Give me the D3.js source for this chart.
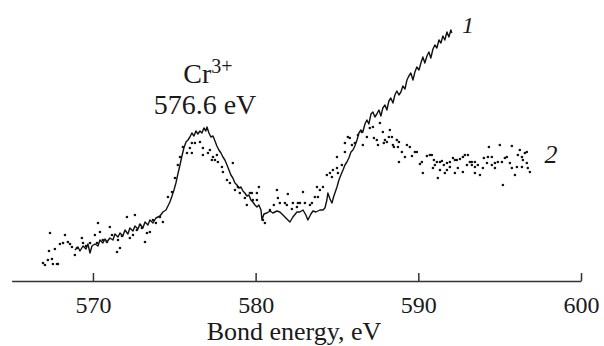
<!DOCTYPE html>
<html><head><meta charset="utf-8">
<script src="https://cdn.jsdelivr.net/npm/d3@7"></script>
<style>body{margin:0;background:#fff}svg{display:block}svg text{font-family:"Liberation Serif","Times New Roman",Times,"DejaVu Serif",serif !important;fill:#1a1a1a}</style>
</head><body><svg id="c" width="604" height="346"></svg>
<script>
// X-axis ticks (bond energy, eV)
const xTicks = [570, 580, 590, 600];
const xDomain = [565, 600];
// Curve 1 (solid line): [energy eV, intensity a.u.]
const curve1 = [[568.89,31],[569.08,34],[569.20,30],[569.39,35],[569.57,32],[569.69,37],[569.82,28],[569.94,35],[570.12,37],[570.31,35],[570.43,41],[570.61,38],[570.74,42],[570.86,39],[571.04,43],[571.23,41],[571.35,47],[571.54,44],[571.66,48],[571.84,45],[571.97,51],[572.15,47],[572.27,53],[572.46,50],[572.58,55],[572.77,52],[572.89,57],[573.07,53],[573.20,59],[573.38,56],[573.50,61],[573.69,58],[573.87,63],[574.12,65],[574.30,69],[574.49,71],[574.61,75],[574.73,79],[574.86,85],[574.98,91],[575.10,98],[575.22,107],[575.35,116],[575.47,125],[575.59,133],[575.72,139],[575.84,141],[575.96,144],[576.08,148],[576.21,145],[576.33,150],[576.45,147],[576.58,150],[576.70,148],[576.82,153],[576.94,150],[577.01,154],[577.13,148],[577.25,144],[577.38,145],[577.50,140],[577.62,135],[577.74,131],[577.87,128],[577.99,124],[578.11,121],[578.24,116],[578.36,111],[578.48,106],[578.60,103],[578.73,98],[578.85,96],[578.97,93],[579.10,94],[579.22,90],[579.34,88],[579.46,85],[579.59,86],[579.71,81],[579.83,79],[579.96,76],[580.08,74],[580.20,76],[580.33,71],[580.39,61],[580.51,67],[580.69,68],[580.88,70],[581.06,68],[581.31,70],[581.49,69],[581.68,66],[581.86,63],[582.11,59],[582.29,64],[582.54,69],[582.72,69],[582.91,71],[583.09,66],[583.21,61],[583.40,67],[583.52,70],[583.71,69],[583.95,71],[584.14,71],[584.26,73],[584.38,81],[584.44,88],[584.57,82],[584.69,78],[584.81,85],[585.00,94],[585.12,101],[585.24,106],[585.37,111],[585.49,116],[585.61,119],[585.73,123],[585.86,129],[585.98,131],[586.10,135],[586.23,141],[586.35,148],[586.47,151],[586.59,149],[586.72,157],[586.84,161],[586.96,157],[587.09,167],[587.21,169],[587.33,164],[587.45,167],[587.58,171],[587.70,165],[587.82,173],[587.95,176],[588.07,171],[588.19,180],[588.31,183],[588.44,178],[588.56,186],[588.68,190],[588.81,186],[588.93,189],[589.05,195],[589.18,192],[589.30,201],[589.42,205],[589.54,208],[589.67,201],[589.79,209],[589.91,214],[590.04,211],[590.16,218],[590.28,224],[590.40,218],[590.53,225],[590.65,229],[590.77,223],[590.90,232],[591.02,236],[591.14,233],[591.27,241],[591.39,238],[591.51,245],[591.63,241],[591.76,249],[591.88,244],[592.00,251],[592.06,248]];
// Curve 2 (dots): [energy eV, intensity a.u.]
const curve2 = [[566.93,18],[567.05,16],[567.23,21],[567.30,30],[567.36,48],[567.48,22],[567.54,17],[567.66,32],[567.79,17],[567.85,17],[567.97,37],[568.16,38],[568.28,46],[568.46,39],[568.59,37],[568.71,34],[568.89,26],[569.02,33],[569.32,43],[569.39,38],[569.57,35],[569.82,38],[570.12,46],[570.25,38],[570.31,58],[570.43,49],[570.61,41],[570.86,39],[571.04,54],[571.17,46],[571.48,29],[571.54,41],[571.66,33],[571.78,45],[572.09,64],[572.27,43],[572.46,46],[572.58,66],[572.70,51],[572.89,56],[573.01,53],[573.20,39],[573.32,48],[573.50,49],[573.69,61],[573.87,58],[574.12,64],[574.30,59],[574.61,84],[574.86,89],[575.04,103],[575.22,116],[575.35,124],[575.53,134],[575.78,128],[575.96,133],[576.08,138],[576.08,128],[576.27,138],[576.58,139],[576.76,133],[576.76,126],[577.07,128],[577.19,131],[577.31,121],[577.38,124],[577.50,121],[577.62,126],[577.68,119],[577.93,114],[577.99,109],[578.24,101],[578.42,98],[578.60,118],[578.73,91],[578.91,94],[579.03,88],[579.34,83],[579.46,76],[579.65,88],[579.77,88],[579.83,81],[580.08,88],[580.08,81],[580.20,94],[580.45,61],[580.57,58],[580.88,71],[581.12,76],[581.31,91],[581.37,83],[581.49,78],[581.80,78],[581.92,76],[581.98,87],[582.23,72],[582.29,78],[582.54,74],[582.60,78],[582.72,78],[582.91,89],[583.03,78],[583.34,76],[583.46,78],[583.64,84],[583.77,94],[583.83,84],[583.95,91],[584.14,94],[584.38,106],[584.57,108],[584.69,104],[584.75,111],[585.00,113],[585.06,108],[585.00,124],[585.30,116],[585.49,129],[585.49,138],[585.67,144],[585.79,143],[585.92,136],[586.10,138],[586.29,146],[586.53,149],[586.59,136],[586.84,144],[587.02,153],[587.21,154],[587.27,143],[587.45,141],[587.52,136],[587.64,158],[587.82,149],[587.88,138],[587.95,141],[588.07,139],[588.19,144],[588.25,151],[588.38,144],[588.44,136],[588.50,134],[588.68,141],[588.75,134],[588.81,139],[588.81,119],[588.99,129],[589.18,124],[589.30,136],[589.48,134],[589.61,125],[589.79,129],[589.91,129],[590.10,117],[590.22,119],[590.28,108],[590.53,125],[590.71,126],[590.83,126],[590.90,113],[590.96,121],[591.02,116],[591.14,119],[591.20,103],[591.33,119],[591.33,111],[591.45,120],[591.57,116],[591.63,108],[591.76,118],[591.76,111],[591.94,119],[591.94,114],[592.13,123],[592.25,121],[592.25,108],[592.37,121],[592.43,113],[592.56,122],[592.74,124],[592.74,109],[592.86,126],[592.99,116],[593.05,126],[593.17,119],[593.29,119],[593.29,116],[593.48,119],[593.48,114],[593.48,108],[593.66,116],[593.79,106],[593.97,113],[594.03,123],[594.22,118],[594.28,124],[594.34,134],[594.52,124],[594.52,116],[594.71,118],[594.71,113],[594.89,119],[595.01,136],[595.14,119],[595.20,96],[595.32,123],[595.44,124],[595.63,118],[595.75,135],[595.75,113],[595.94,106],[596.06,114],[596.12,126],[596.24,131],[596.37,124],[596.37,114],[596.43,121],[596.55,128],[596.67,129],[596.67,118],[596.73,113],[596.86,109]];

const svg = d3.select("#c");
const x = d3.scaleLinear().domain(xDomain).range([11.6, 581]);
const y = d3.scaleLinear().domain([0, 260]).range([281, 21]);

// axis
const ax = svg.append("g").attr("transform", "translate(0,281)")
  .call(d3.axisBottom(x).tickValues(xTicks).tickSize(-8).tickSizeOuter(0).tickPadding(0).tickFormat(d3.format("d")));
ax.attr("font-family", null);
ax.select(".domain").attr("stroke", "#333").attr("stroke-width", 1.5);
ax.selectAll(".tick line").attr("stroke", "#333").attr("stroke-width", 1.5);
ax.selectAll(".tick text").attr("font-size", 24).attr("fill", "#1a1a1a").attr("y", 32).attr("dy", 0);

// curve 1
svg.append("path").datum(curve1)
  .attr("fill", "none").attr("stroke", "#111").attr("stroke-width", 1.4).attr("stroke-linejoin", "round")
  .attr("d", d3.line().x(d => x(d[0])).y(d => y(d[1])));

// curve 2
svg.append("g").selectAll("circle").data(curve2).join("circle")
  .attr("cx", d => x(d[0])).attr("cy", d => y(d[1])).attr("r", 1.3).attr("fill", "#111");

// labels
svg.append("text").attr("x", 294).attr("y", 340).attr("text-anchor", "middle").attr("font-size", 26).text("Bond energy, eV");
const cr = svg.append("text").attr("x", 208).attr("y", 83).attr("text-anchor", "middle").attr("font-size", 28);
cr.append("tspan").text("Cr");
cr.append("tspan").attr("font-size", 20).attr("dy", -10).text("3+");
svg.append("text").attr("x", 205).attr("y", 114).attr("text-anchor", "middle").attr("font-size", 28).text("576.6 eV");
svg.append("text").attr("x", 468).attr("y", 33).attr("text-anchor", "middle").attr("font-size", 24).attr("font-style", "italic").text("1");
svg.append("text").attr("x", 551).attr("y", 163).attr("text-anchor", "middle").attr("font-size", 26).attr("font-style", "italic").text("2");
</script></body></html>
